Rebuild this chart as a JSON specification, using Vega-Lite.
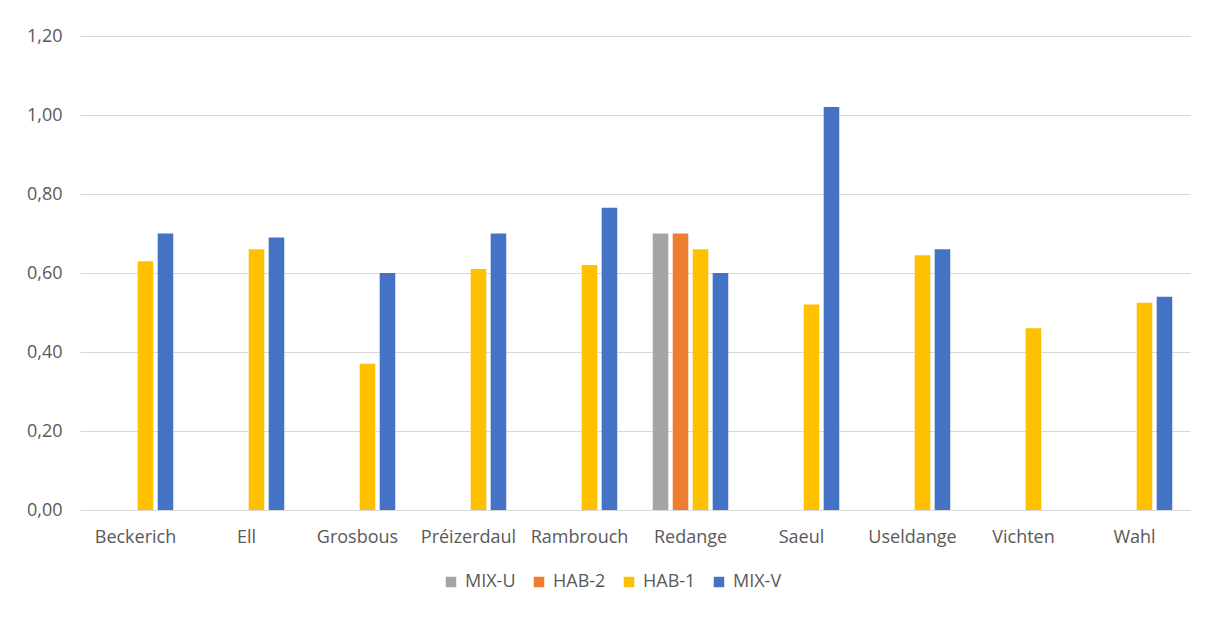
{
  "$schema": "https://vega.github.io/schema/vega-lite/v6.json",
  "autosize": {"type": "none"},
  "width": 1110,
  "height": 474,
  "padding": {"left": 80, "top": 36, "right": 18, "bottom": 107},
  "background": "white",
  "data": {
    "values": [
      {"commune": "Beckerich", "serie": "HAB-1", "valeur": 0.63},
      {"commune": "Beckerich", "serie": "MIX-V", "valeur": 0.70},
      {"commune": "Ell", "serie": "HAB-1", "valeur": 0.66},
      {"commune": "Ell", "serie": "MIX-V", "valeur": 0.69},
      {"commune": "Grosbous", "serie": "HAB-1", "valeur": 0.37},
      {"commune": "Grosbous", "serie": "MIX-V", "valeur": 0.60},
      {"commune": "Préizerdaul", "serie": "HAB-1", "valeur": 0.61},
      {"commune": "Préizerdaul", "serie": "MIX-V", "valeur": 0.70},
      {"commune": "Rambrouch", "serie": "HAB-1", "valeur": 0.62},
      {"commune": "Rambrouch", "serie": "MIX-V", "valeur": 0.765},
      {"commune": "Redange", "serie": "MIX-U", "valeur": 0.70},
      {"commune": "Redange", "serie": "HAB-2", "valeur": 0.70},
      {"commune": "Redange", "serie": "HAB-1", "valeur": 0.66},
      {"commune": "Redange", "serie": "MIX-V", "valeur": 0.60},
      {"commune": "Saeul", "serie": "HAB-1", "valeur": 0.52},
      {"commune": "Saeul", "serie": "MIX-V", "valeur": 1.02},
      {"commune": "Useldange", "serie": "HAB-1", "valeur": 0.645},
      {"commune": "Useldange", "serie": "MIX-V", "valeur": 0.66},
      {"commune": "Vichten", "serie": "HAB-1", "valeur": 0.46},
      {"commune": "Wahl", "serie": "HAB-1", "valeur": 0.525},
      {"commune": "Wahl", "serie": "MIX-V", "valeur": 0.54}
    ]
  },
  "mark": {"type": "bar"},
  "encoding": {
    "x": {
      "field": "commune",
      "type": "nominal",
      "sort": ["Beckerich", "Ell", "Grosbous", "Préizerdaul", "Rambrouch", "Redange", "Saeul", "Useldange", "Vichten", "Wahl"],
      "scale": {"paddingInner": 0.28, "paddingOuter": 0.14},
      "axis": {
        "title": null,
        "domain": false,
        "ticks": false,
        "labelAngle": 0,
        "labelPadding": 18,
        "labelFont": "Open Sans",
        "labelFontSize": 18,
        "labelColor": "#595959"
      }
    },
    "xOffset": {
      "field": "serie",
      "type": "nominal",
      "scale": {"domain": ["MIX-U", "HAB-2", "HAB-1", "MIX-V"], "paddingInner": 0.22, "paddingOuter": 0.11}
    },
    "y": {
      "field": "valeur",
      "type": "quantitative",
      "scale": {"domain": [0, 1.2], "nice": false},
      "axis": {
        "title": null,
        "domain": false,
        "ticks": false,
        "values": [0, 0.2, 0.4, 0.6, 0.8, 1.0, 1.2],
        "labelExpr": "replace(format(datum.value, '.2f'), '.', ',')",
        "labelPadding": 18,
        "labelFont": "Open Sans",
        "labelFontSize": 18,
        "labelColor": "#595959",
        "gridColor": "#D9D9D9",
        "gridWidth": 1
      }
    },
    "color": {
      "field": "serie",
      "type": "nominal",
      "scale": {
        "domain": ["MIX-U", "HAB-2", "HAB-1", "MIX-V"],
        "range": ["#A5A5A5", "#ED7D31", "#FFC000", "#4472C4"]
      },
      "legend": {
        "title": null,
        "orient": "none",
        "direction": "horizontal",
        "legendX": 362,
        "legendY": 537,
        "symbolType": "square",
        "symbolSize": 110,
        "symbolStrokeWidth": 0,
        "symbolOpacity": 1,
        "columnPadding": 14,
        "labelFont": "Open Sans",
        "labelFontSize": 18,
        "labelColor": "#595959",
        "labelOffset": 5
      }
    }
  },
  "config": {
    "view": {"stroke": null}
  }
}
